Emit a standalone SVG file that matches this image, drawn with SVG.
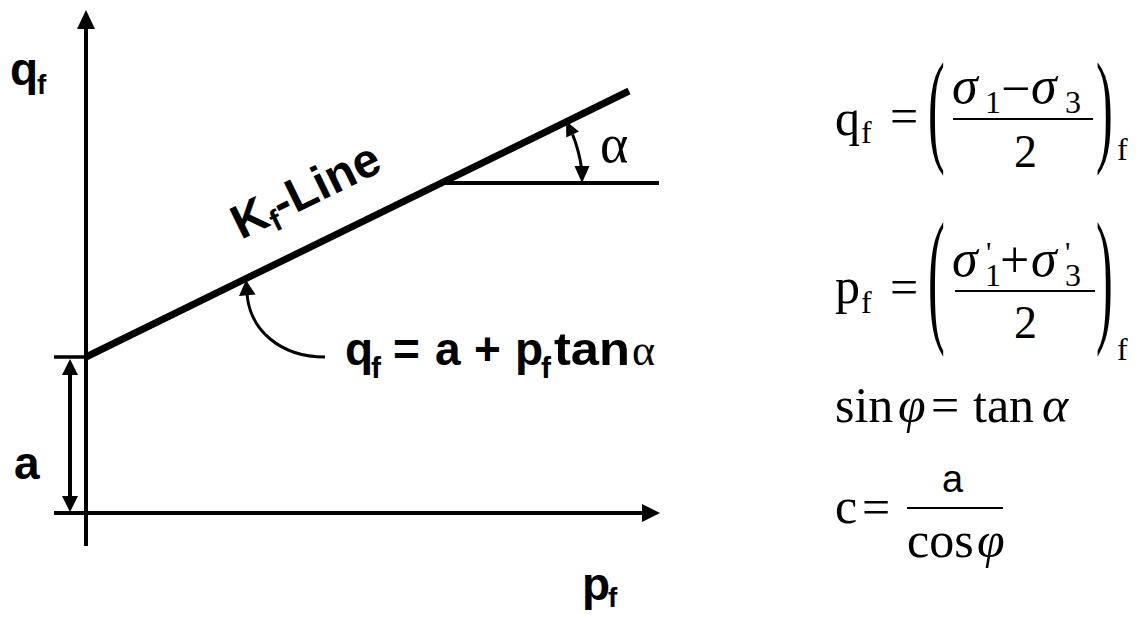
<svg xmlns="http://www.w3.org/2000/svg" width="1148" height="617" viewBox="0 0 1148 617">
<style>
.ln{stroke:#000;fill:none;stroke-linecap:butt}
.ah{fill:#000;stroke:none}
.bs{font-family:"Liberation Sans",Arial,sans-serif;font-weight:bold;fill:#000}
.sf{font-family:"Liberation Serif","Times New Roman",serif;fill:#000}
.it{font-style:italic}
</style>
<rect width="1148" height="617" fill="#fff"/>
<g id="axes">
<line class="ln" x1="86" y1="546" x2="86" y2="26" stroke-width="4"/>
<polygon class="ah" points="86,10 77,29 95,29"/>
<line class="ln" x1="54" y1="513" x2="644" y2="513" stroke-width="4"/>
<polygon class="ah" points="660,513 642,504 642,522"/>
<line class="ln" x1="54" y1="357" x2="86" y2="357" stroke-width="3.5"/>
</g>
<g id="dim-a">
<line class="ln" x1="70" y1="372" x2="70" y2="499" stroke-width="4"/>
<polygon class="ah" points="70,359 62,375 78,375"/>
<polygon class="ah" points="70,512 62,496 78,496"/>
</g>
<g id="kf-line">
<line class="ln" x1="86" y1="357" x2="629" y2="91" stroke-width="7"/>
<line class="ln" x1="438" y1="183" x2="659" y2="183" stroke-width="4"/>
</g>
<g id="connectors">
<path class="ln" d="M572.6 134.5 A144 144 0 0 1 581.5 168" stroke-width="3"/>
<polygon class="ah" points="566,121 578.9,131.4 566.3,137.6"/>
<polygon class="ah" points="582,183 574.5,166 589.5,166"/>
<path class="ln" d="M247 294 C250 330 280 357 325 357" stroke-width="3"/>
<polygon class="ah" points="246,280 239,296 255.5,294.5"/>
</g>
<g id="labels">
<text class="bs" font-size="46" x="10" y="85">q<tspan font-size="28" x="37" y="94">f</tspan></text>
<text class="bs" font-size="46" x="14" y="479">a</text>
<text class="bs" font-size="46" x="582" y="600">p<tspan font-size="28" x="608" y="607">f</tspan></text>
<text class="bs" font-size="48" transform="translate(241,240) rotate(-26)">K<tspan font-size="30" dy="8">f</tspan><tspan dy="-8">-Line</tspan></text>
<text class="sf" font-size="54" x="600" y="162">α</text>
<text class="bs" font-size="46" y="365"><tspan x="345">q</tspan><tspan x="371" y="378" font-size="30">f</tspan><tspan x="393" y="365">=</tspan><tspan x="435">a</tspan><tspan x="474">+</tspan><tspan x="515">p</tspan><tspan x="541" y="378" font-size="30">f</tspan><tspan x="554" y="365" textLength="76" lengthAdjust="spacingAndGlyphs">tan</tspan><tspan class="sf" font-weight="normal" font-size="44" x="632">α</tspan></text>
</g>
<g id="eq-q">
<text class="sf" font-size="50" x="835" y="135">q<tspan font-size="32" x="861" y="143">f</tspan></text>
<text class="sf" font-size="50" x="890" y="133">=</text>
<text class="sf" font-size="48" transform="translate(928,149) scale(1.05,2.6)">(</text>
<text class="sf" font-size="52" y="103"><tspan class="it" x="952">σ</tspan><tspan font-size="32" x="985" y="113">1</tspan><tspan x="1001" y="106">−</tspan><tspan class="it" x="1031" y="103">σ</tspan><tspan font-size="32" x="1065" y="113">3</tspan></text>
<line class="ln" x1="953" y1="119" x2="1093" y2="119" stroke-width="2"/>
<text class="sf" font-size="46" x="1014" y="167">2</text>
<text class="sf" font-size="48" transform="translate(1096,149) scale(1.05,2.6)">)</text>
<text class="sf" font-size="32" x="1117" y="160">f</text>
</g>
<g id="eq-p">
<text class="sf" font-size="50" x="835" y="303">p<tspan font-size="32" x="861" y="313">f</tspan></text>
<text class="sf" font-size="50" x="890" y="304">=</text>
<text class="sf" font-size="48" transform="translate(928,325) scale(1.05,3.07)">(</text>
<text class="sf" font-size="52" y="276"><tspan class="it" x="952">σ</tspan><tspan font-size="30" x="986" y="262">'</tspan><tspan font-size="32" x="985" y="286">1</tspan><tspan x="1000" y="277">+</tspan><tspan class="it" x="1031" y="276">σ</tspan><tspan font-size="30" x="1065" y="262">'</tspan><tspan font-size="32" x="1065" y="286">3</tspan></text>
<line class="ln" x1="955" y1="291" x2="1095" y2="291" stroke-width="2"/>
<text class="sf" font-size="46" x="1014" y="338">2</text>
<text class="sf" font-size="48" transform="translate(1096,325) scale(1.05,3.07)">)</text>
<text class="sf" font-size="32" x="1117" y="360">f</text>
</g>
<g id="eq-sin">
<text class="sf" font-size="50" y="422"><tspan x="835">sin</tspan><tspan class="it" x="898">φ</tspan><tspan x="931">=</tspan><tspan x="973">tan</tspan><tspan class="it" x="1042">α</tspan></text>
</g>
<g id="eq-c">
<text class="sf" font-size="50" x="835" y="523">c</text>
<text class="sf" font-size="50" x="862" y="524">=</text>
<text font-family="Liberation Sans,Arial,sans-serif" font-size="38" x="942" y="492">a</text>
<line class="ln" x1="907" y1="508" x2="1003" y2="508" stroke-width="2"/>
<text class="sf" font-size="50" y="557"><tspan x="907">cos</tspan><tspan class="it" x="977">φ</tspan></text>
</g>
</svg>
